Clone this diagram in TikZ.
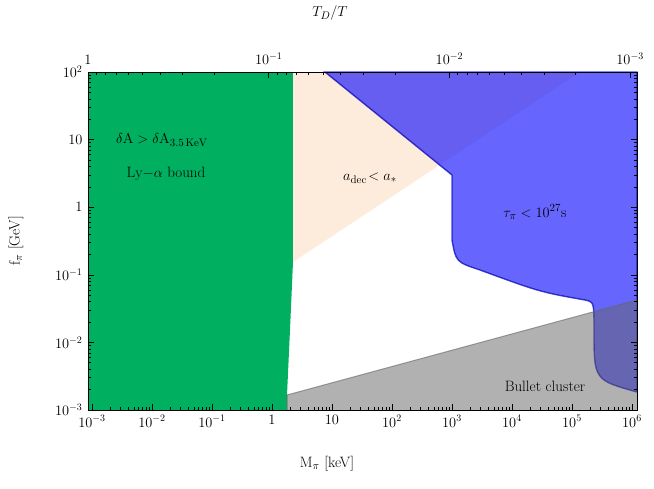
\documentclass[tikz,border=0pt]{standalone}
\usepackage{amsmath}
\definecolor{lyagreen}{RGB}{0,176,96}
\definecolor{peach}{RGB}{253,235,220}
\definecolor{taublue}{RGB}{0,0,255}
\definecolor{bulletgray}{RGB}{100,100,100}
\begin{document}
\begin{tikzpicture}[x=1pt, y=-1pt,
    tick/.style={line width=0.6pt},
    ticklabel/.style={font=\fontsize{14}{16}\selectfont},
    every node/.style={font=\fontsize{15}{18}\selectfont}]
    \useasboundingbox (0,0) rectangle (654,488);
    % Regions
    \fill[lyagreen] (88,72) -- (293,72) -- (293,262) .. controls (290,330) .. (287,395) -- (287,410) -- (88,410) -- cycle;
    \fill[peach] (293,72) -- (580,72) -- (293,262) -- cycle;
    \fill[taublue, fill opacity=0.6] (325,72) -- (452,175) -- (452,240) .. controls (456,262) .. (480,270)
        .. controls (540,292) .. (585,300) .. controls (594,302) .. (594,330)
        .. controls (594,380) .. (637,392) -- (637,72) -- cycle;
    \draw[taublue!70!black, line width=1.4pt, opacity=0.7] (637,392) .. controls (594,380) .. (594,330)
        .. controls (594,302) .. (585,300) .. controls (540,292) .. (480,270)
        .. controls (456,262) .. (452,240) -- (452,175) -- (325,72) -- (637,72) -- (637,392);
    \fill[bulletgray, fill opacity=0.5] (287,395) -- (637,300) -- (637,410) -- (287,410) -- cycle;
    \draw[bulletgray, line width=1pt, opacity=0.6] (287,410) -- (287,395) -- (637,300);
    % Frame
    \draw[tick] (88,72) rectangle (637,410);
    % Bottom axis
    \foreach \d in {-3,...,6} {
        \pgfmathsetmacro\xx{272+60*\d}
        \draw[tick] (\xx,410) -- (\xx,404);
        \ifnum\d=0 \node[below, ticklabel] at (\xx,412) {$1$};
        \else\ifnum\d=1 \node[below, ticklabel] at (\xx,412) {$10$};
        \else \node[below, ticklabel] at (\xx,412) {$10^{\d}$};\fi\fi
        \ifnum\d<6
        \foreach \m in {2,...,9} {
            \pgfmathsetmacro\xm{272+60*(\d+ln(\m)/ln(10))}
            \draw[tick] (\xm,410) -- (\xm,407);
        }\fi
    }
    % Left and right axes
    \foreach \e in {-3,...,2} {
        \pgfmathsetmacro\yy{72+67.6*(2-\e)}
        \draw[tick] (88,\yy) -- (94,\yy) (637,\yy) -- (631,\yy);
        \ifnum\e=0 \node[left, ticklabel] at (86,\yy) {$1$};
        \else\ifnum\e=1 \node[left, ticklabel] at (86,\yy) {$10$};
        \else \node[left, ticklabel] at (86,\yy) {$10^{\e}$};\fi\fi
        \ifnum\e<2
        \foreach \m in {2,...,9} {
            \pgfmathsetmacro\ym{72+67.6*(2-\e-ln(\m)/ln(10))}
            \draw[tick] (88,\ym) -- (91,\ym) (637,\ym) -- (634,\ym);
        }\fi
    }
    % Top axis
    \foreach \k in {0,...,3} {
        \pgfmathsetmacro\xt{88+180.7*\k}
        \draw[tick] (\xt,72) -- (\xt,78);
        \ifnum\k=0 \node[above, ticklabel] at (\xt,68) {$1$};
        \else \node[above, ticklabel] at (\xt,68) {$10^{-\k}$};\fi
        \ifnum\k<3
        \foreach \m in {2,...,9} {
            \pgfmathsetmacro\xs{88+180.7*(\k+1-ln(\m)/ln(10))}
            \draw[tick] (\xs,72) -- (\xs,75);
        }\fi
    }
    % Labels
    \node (lyacut) at (162,140) {$\delta\mathrm{A} > \delta\mathrm{A}_{3.5\,\mathrm{KeV}}$};
    \node (lyabound) at (166,174) {Ly$-\alpha$ bound};
    \node (adec) at (370,178) {$a_{\rm dec}\!< a_*$};
    \node (taulife) at (535,212) {$\tau_\pi < 10^{27}$s};
    \node (bullet) at (545,386) {Bullet cluster};
    \node (xlabel) at (327,464) {M$_\pi$ [keV]};
    \node[rotate=90] (ylabel) at (16,241) {f$_\pi$ [GeV]};
    \node (toplabel) at (330,13) {$T_D/T$};
\end{tikzpicture}
\end{document}
